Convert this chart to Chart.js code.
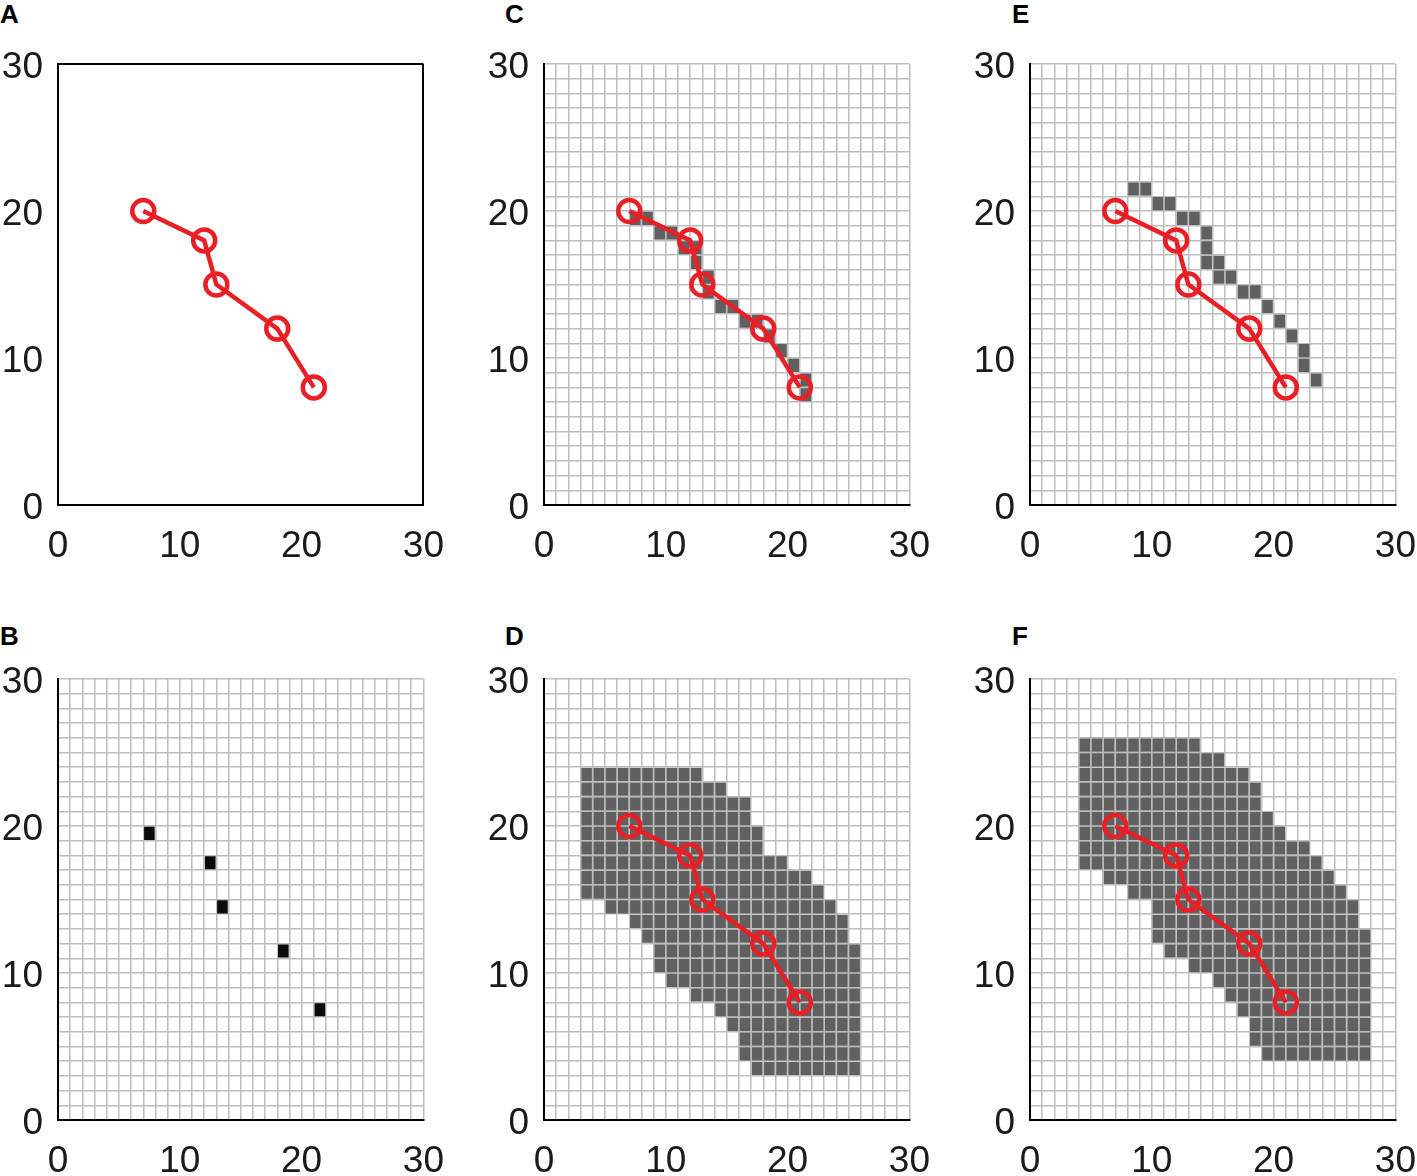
<!DOCTYPE html>
<html>
<head>
<meta charset="utf-8">
<script src="https://cdn.jsdelivr.net/npm/chart.js@4.4.1/dist/chart.umd.min.js"></script>
<style>
  html, body { margin: 0; padding: 0; background: #fff; overflow: hidden; }
  body { width: 1417px; height: 1176px; position: relative; }
  canvas { position: absolute; }
  .tag { position: absolute; font: bold 26px "Liberation Sans", Arial, sans-serif; line-height: 26px; color: #000; }
</style>
</head>
<body>
<div class="tag" style="left:0px;top:1px">A</div>
<div class="tag" style="left:505px;top:1px">C</div>
<div class="tag" style="left:1012px;top:1px">E</div>
<div class="tag" style="left:0px;top:623px">B</div>
<div class="tag" style="left:505px;top:623px">D</div>
<div class="tag" style="left:1012px;top:623px">F</div>

<canvas id="panelA" width="464" height="575" style="left:0px;top:0px"></canvas>
<canvas id="panelC" width="464" height="575" style="left:486px;top:0px"></canvas>
<canvas id="panelE" width="464" height="575" style="left:972px;top:0px"></canvas>
<canvas id="panelB" width="464" height="575" style="left:0px;top:615px"></canvas>
<canvas id="panelD" width="464" height="575" style="left:486px;top:615px"></canvas>
<canvas id="panelF" width="464" height="575" style="left:972px;top:615px"></canvas>

<script>
// trajectory (drawn in A, C, D, E, F)
const pathX = [7, 12, 13, 18, 21];
const pathY = [20, 18, 15, 12, 8];

// axis ticks
const tickLabels = [0, 10, 20, 30];

// B: single cells [col, row]
const cellsB = [[7, 19], [12, 17], [13, 14], [18, 11], [21, 7]];

// C..F: filled runs per row [row, firstCol, lastCol]
const runsC = [
    [19, 7, 8], [18, 9, 10], [17, 11, 12], [16, 12, 12], [15, 13, 13], [14, 13, 13],
    [13, 14, 15], [12, 16, 17], [11, 18, 18], [10, 19, 19], [9, 20, 20], [8, 21, 21], [7, 21, 21]
];
const runsE = [
    [21, 8, 9], [20, 10, 11], [19, 12, 13], [18, 14, 14], [17, 14, 14], [16, 14, 15], [15, 15, 16],
    [14, 17, 18], [13, 19, 19], [12, 20, 20], [11, 21, 21], [10, 22, 22], [9, 22, 22], [8, 23, 23]
];
const runsD = [
    [23, 3, 12], [22, 3, 14], [21, 3, 16], [20, 3, 16], [19, 3, 17], [18, 3, 17], [17, 3, 19],
    [16, 3, 21], [15, 3, 22], [14, 5, 23], [13, 7, 24], [12, 8, 24], [11, 9, 25], [10, 9, 25],
    [9, 10, 25], [8, 12, 25], [7, 14, 25], [6, 15, 25], [5, 16, 25], [4, 16, 25], [3, 17, 25]
];
const runsF = [
    [25, 4, 13], [24, 4, 15], [23, 4, 17], [22, 4, 18], [21, 4, 18], [20, 4, 19], [19, 4, 20],
    [18, 4, 22], [17, 4, 23], [16, 6, 24], [15, 8, 25], [14, 10, 26], [13, 10, 26], [12, 10, 27],
    [11, 11, 27], [10, 13, 27], [9, 15, 27], [8, 16, 27], [7, 17, 27], [6, 18, 27], [5, 18, 27],
    [4, 19, 27]
];

const RED = '#ea1f26';
const GRID = '#bdbdbd';
const DARK = '#606060';

function runsToCells(runs) {
    const out = [];
    runs.forEach(function (r) {
        for (let c = r[1]; c <= r[2]; c++) out.push([c, r[0]]);
    });
    return out;
}

function axis(boxed, which) {
    return {
        type: 'linear',
        min: 0,
        max: 30,
        offset: false, // bar datasets would otherwise switch this on
        ticks: {
            stepSize: 1,
            autoSkip: false,
            maxRotation: 0,
            padding: which === 'x' ? 20 : 15,
            labelOffset: which === 'x' ? 0 : 4,
            color: '#1a1a1a',
            font: { family: 'Liberation Sans', size: 37 },
            callback: function (v) { return tickLabels.includes(v) ? String(v) : ''; }
        },
        grid: {
            offset: false,
            drawTicks: false,
            lineWidth: boxed ? 2 : 1.5,
            color: boxed
                ? function (ctx) { return ctx.tick && ctx.tick.value === 30 ? '#000' : 'rgba(0,0,0,0)'; }
                : GRID
        },
        border: { color: '#000', width: 2 },
        afterFit: function (scale) {
            if (which === 'x') scale.height = 70; else scale.width = 58;
        }
    };
}

function makePanel(id, cells, cellColor, boxed, withPath) {
    const datasets = [];
    if (withPath) {
        datasets.push({
            type: 'line',
            data: pathX.map(function (x, i) { return { x: x, y: pathY[i] }; }),
            borderColor: RED,
            borderWidth: 4.5,
            pointRadius: 11,
            pointBorderWidth: 4.5,
            pointBorderColor: RED,
            pointBackgroundColor: 'rgba(0,0,0,0)',
            fill: false,
            tension: 0,
            clip: false,
            order: 0
        });
    }
    if (cells) {
        datasets.push({
            type: 'bar',
            indexAxis: 'y',
            data: cells.map(function (c) { return { x: [c[0], c[0] + 1], y: c[1] + 0.5 }; }),
            backgroundColor: cellColor,
            borderColor: GRID,
            borderWidth: 0.8,
            borderSkipped: false,
            inflateAmount: 0,
            barPercentage: 1,
            categoryPercentage: 1,
            grouped: false,
            order: 1
        });
    }
    new Chart(document.getElementById(id), {
        type: 'scatter',
        data: { datasets: datasets },
        options: {
            responsive: false,
            animation: false,
            events: [],
            layout: { padding: { left: 0, top: 64, right: 40, bottom: 0 } },
            plugins: { legend: { display: false }, tooltip: { enabled: false } },
            scales: { x: axis(boxed, 'x'), y: axis(boxed, 'y') }
        }
    });
}

makePanel('panelA', null, null, true, true);
makePanel('panelB', cellsB, '#0a0a0a', false, false);
makePanel('panelC', runsToCells(runsC), DARK, false, true);
makePanel('panelD', runsToCells(runsD), DARK, false, true);
makePanel('panelE', runsToCells(runsE), DARK, false, true);
makePanel('panelF', runsToCells(runsF), DARK, false, true);
</script>
</body>
</html>
